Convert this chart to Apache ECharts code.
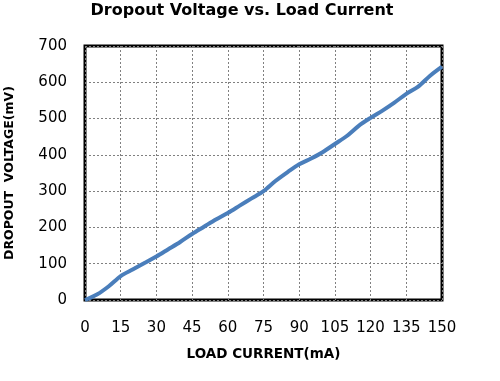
<!DOCTYPE html>
<html><head><meta charset="utf-8">
<script src="https://cdn.jsdelivr.net/npm/echarts@6/dist/echarts.min.js"></script>
<style>html,body{margin:0;padding:0;background:#fff}#c{width:500px;height:381px}</style>
</head><body><div id="c"></div>
<script>
var loadCurrent = [0,5,10,15,20,25,30,35,40,45,50,55,60,65,70,75,80,85,90,95,100,105,110,115,120,125,130,135,140,145,150];
var dropoutVoltage = [0,15,38,66,84,102,120,140,160,182,202,222,240,260,280,300,328,352,374,390,408,430,452,480,502,522,544,568,588,618,643];
var xTicks = [0,15,30,45,60,75,90,105,120,135,150];
var yTicks = [0,100,200,300,400,500,600,700];

var chart = echarts.init(document.getElementById('c'), null, {renderer:'canvas'});
chart.setOption({
  animation:false,
  title:{text:'Dropout Voltage vs. Load Current', left:237, top:-2, textAlign:'center',
    textStyle:{fontFamily:'DejaVu Sans', fontWeight:'bold', fontSize:16, color:'#000'}},
  grid:{left:85, right:58, top:46, bottom:81, containLabel:false, outerBoundsMode:'none',
    show:true, borderColor:'#000', borderWidth:3, backgroundColor:'#fff'},
  xAxis:{type:'value', min:xTicks[0], max:xTicks[xTicks.length-1], interval:15,
    name:'LOAD CURRENT(mA)', nameLocation:'middle', nameGap:47,
    nameTextStyle:{fontFamily:'DejaVu Sans', fontWeight:'bold', fontSize:13.5, color:'#000'},
    axisLine:{show:false}, axisTick:{show:false},
    axisLabel:{margin:21, fontFamily:'DejaVu Sans', fontSize:15, color:'#000'},
    splitLine:{show:true, lineStyle:{color:'#808080', type:[2,2], width:1}}},
  yAxis:{type:'value', min:yTicks[0], max:yTicks[yTicks.length-1], interval:100,
    name:'DROPOUT  VOLTAGE(mV)', nameLocation:'middle', nameGap:69,
    nameTextStyle:{fontFamily:'DejaVu Sans', fontWeight:'bold', fontSize:12.5, color:'#000'},
    axisLine:{show:false}, axisTick:{show:false},
    axisLabel:{margin:18, fontFamily:'DejaVu Sans', fontSize:15, color:'#000'},
    splitLine:{show:true, lineStyle:{color:'#808080', type:[2,2], width:1}}},
  series:[{type:'line', data:loadCurrent.map(function(x,i){return [x,dropoutVoltage[i]];}),
    showSymbol:false, smooth:0.3, lineStyle:{color:'#4a7ebb', width:4}, z:3}]
});
</script></body></html>
